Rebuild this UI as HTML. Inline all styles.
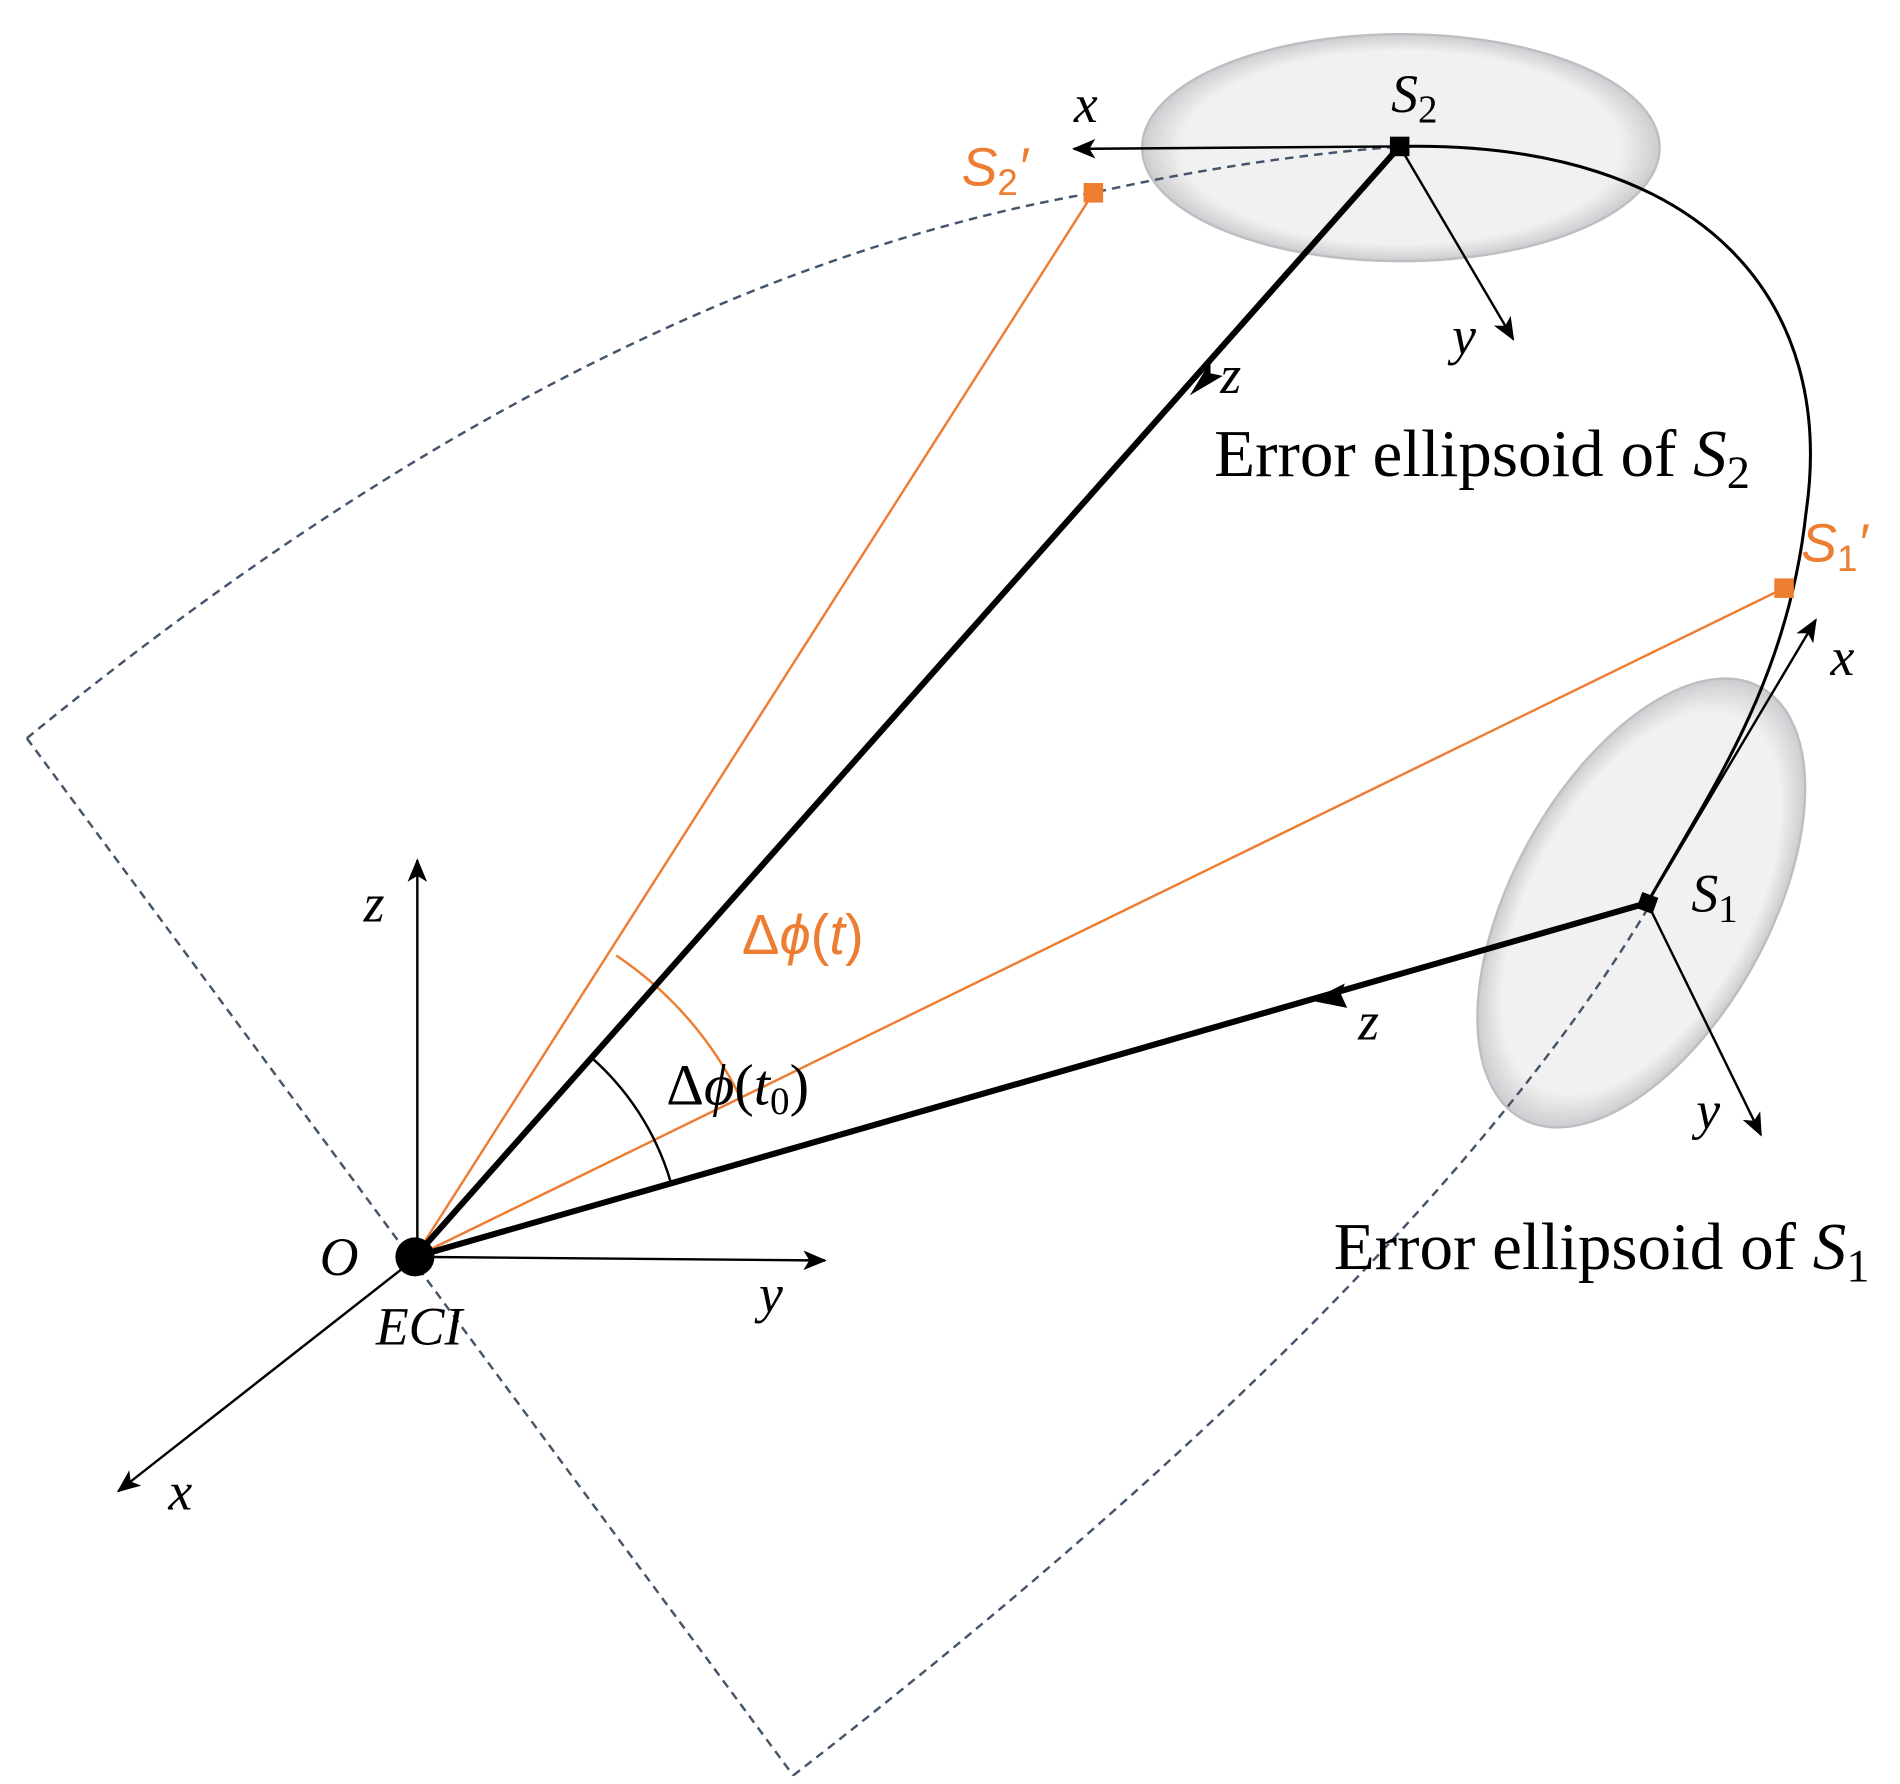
<!DOCTYPE html>
<html><head><meta charset="utf-8"><style>html,body{margin:0;padding:0;background:#fff}svg{display:block}</style></head>
<body>
<svg width="1900" height="1784" viewBox="0 0 1557 1462" preserveAspectRatio="none" xmlns="http://www.w3.org/2000/svg">
<defs>
<marker id="ah" viewBox="0 0 12 10" refX="11" refY="5" markerWidth="20" markerHeight="16" markerUnits="userSpaceOnUse" orient="auto"><path d="M0,0 L12,5 L0,10 L3,5 Z" fill="#000"/></marker>
<radialGradient id="eg" cx="50%" cy="50%" r="50%"><stop offset="0.85" stop-color="#f0f0f0"/><stop offset="1" stop-color="#c8c8cc"/></radialGradient>
</defs>
<ellipse cx="1148" cy="121" rx="212" ry="93" fill="url(#eg)" stroke="#b8b8bc" stroke-width="2" opacity="0.9"/>
<ellipse cx="1345" cy="740" rx="105" ry="202" transform="rotate(29 1345 740)" fill="url(#eg)" stroke="#b8b8bc" stroke-width="2" opacity="0.9"/>
<g fill="none" stroke="#44546A" stroke-width="2" stroke-dasharray="7,5">
<path d="M22,605 Q480,230 896,158 Q1020,130 1147,120"/>
<path d="M22,605 L650,1455"/>
<path d="M650,1455 Q1160,1060 1350,745"/>
</g>
<path d="M1147,120 C1400,115 1505,250 1480,420 C1465,560 1400,650 1350,740" fill="none" stroke="#000" stroke-width="2.5"/>
<g stroke="#ED7D31" stroke-width="2" fill="none">
<line x1="340" y1="1030" x2="896" y2="158"/>
<line x1="340" y1="1030" x2="1462" y2="482"/>
<path d="M505,783 A297,297 0 0 1 607,900"/>
</g>
<rect x="888" y="150" width="16" height="16" fill="#ED7D31"/>
<rect x="1454" y="474" width="16" height="16" fill="#ED7D31"/>
<line x1="1147" y1="120" x2="340" y2="1030" stroke="#000" stroke-width="5"/>
<line x1="1350" y1="740" x2="340" y2="1030" stroke="#000" stroke-width="5"/>
<path d="M992,296 L975,324 L1002,308 L992,306Z" fill="#000"/>
<path d="M1102,806 L1074,820 L1104,826 L1099,815Z" fill="#000"/>
<path d="M485,867 A218,218 0 0 1 550,970" fill="none" stroke="#000" stroke-width="2"/>
<g stroke="#000" stroke-width="2" fill="none" marker-end="url(#ah)">
<line x1="1147" y1="120" x2="880" y2="122"/>
<line x1="1147" y1="120" x2="1240" y2="278"/>
<line x1="1350" y1="740" x2="1488" y2="508"/>
<line x1="1350" y1="740" x2="1443" y2="930"/>
<line x1="342" y1="1030" x2="342" y2="705"/>
<line x1="342" y1="1030" x2="676" y2="1033"/>
<line x1="342" y1="1030" x2="97" y2="1222"/>
</g>
<rect x="1139" y="112" width="16" height="16" fill="#000"/>
<rect x="1343" y="733" width="14" height="14" fill="#000" transform="rotate(20 1350 740)"/>
<circle cx="340" cy="1030" r="16" fill="#000"/>
<g font-family="Liberation Serif, serif" font-size="44" fill="#000" font-style="italic">
<text x="880" y="100">x</text>
<text x="1190" y="290">y</text>
<text x="1000" y="322">z</text>
<text x="1500" y="553">x</text>
<text x="1390" y="925">y</text>
<text x="1113" y="852">z</text>
<text x="298" y="755">z</text>
<text x="622" y="1075">y</text>
<text x="138" y="1237">x</text>
<text x="262" y="1045">O</text>
<text x="308" y="1102">ECI</text>
<text x="1140" y="92">S<tspan font-style="normal" font-size="32" dy="8">2</tspan></text>
<text x="1386" y="747">S<tspan font-style="normal" font-size="32" dy="8">1</tspan></text>
</g>
<g font-family="Liberation Serif, serif" font-size="55" fill="#000">
<text x="995" y="390">Error ellipsoid of <tspan font-style="italic">S</tspan><tspan font-size="38" dy="10">2</tspan></text>
<text x="1093" y="1040">Error ellipsoid of <tspan font-style="italic">S</tspan><tspan font-size="38" dy="10">1</tspan></text>
<text x="546" y="905" font-size="48">Δ<tspan font-style="italic">ϕ</tspan>(<tspan font-style="italic">t</tspan><tspan font-size="32" dy="8">0</tspan><tspan dy="-8">)</tspan></text>
</g>
<g font-family="Liberation Sans, sans-serif" fill="#ED7D31">
<text x="608" y="782" font-size="46">Δ<tspan font-style="italic">ϕ</tspan>(<tspan font-style="italic">t</tspan>)</text>
<text x="788" y="152" font-size="44" font-style="italic">S<tspan font-style="normal" font-size="30" dy="8">2</tspan><tspan dy="-8">′</tspan></text>
<text x="1476" y="460" font-size="44" font-style="italic">S<tspan font-style="normal" font-size="30" dy="8">1</tspan><tspan dy="-8">′</tspan></text>
</g>
</svg>
</body></html>
